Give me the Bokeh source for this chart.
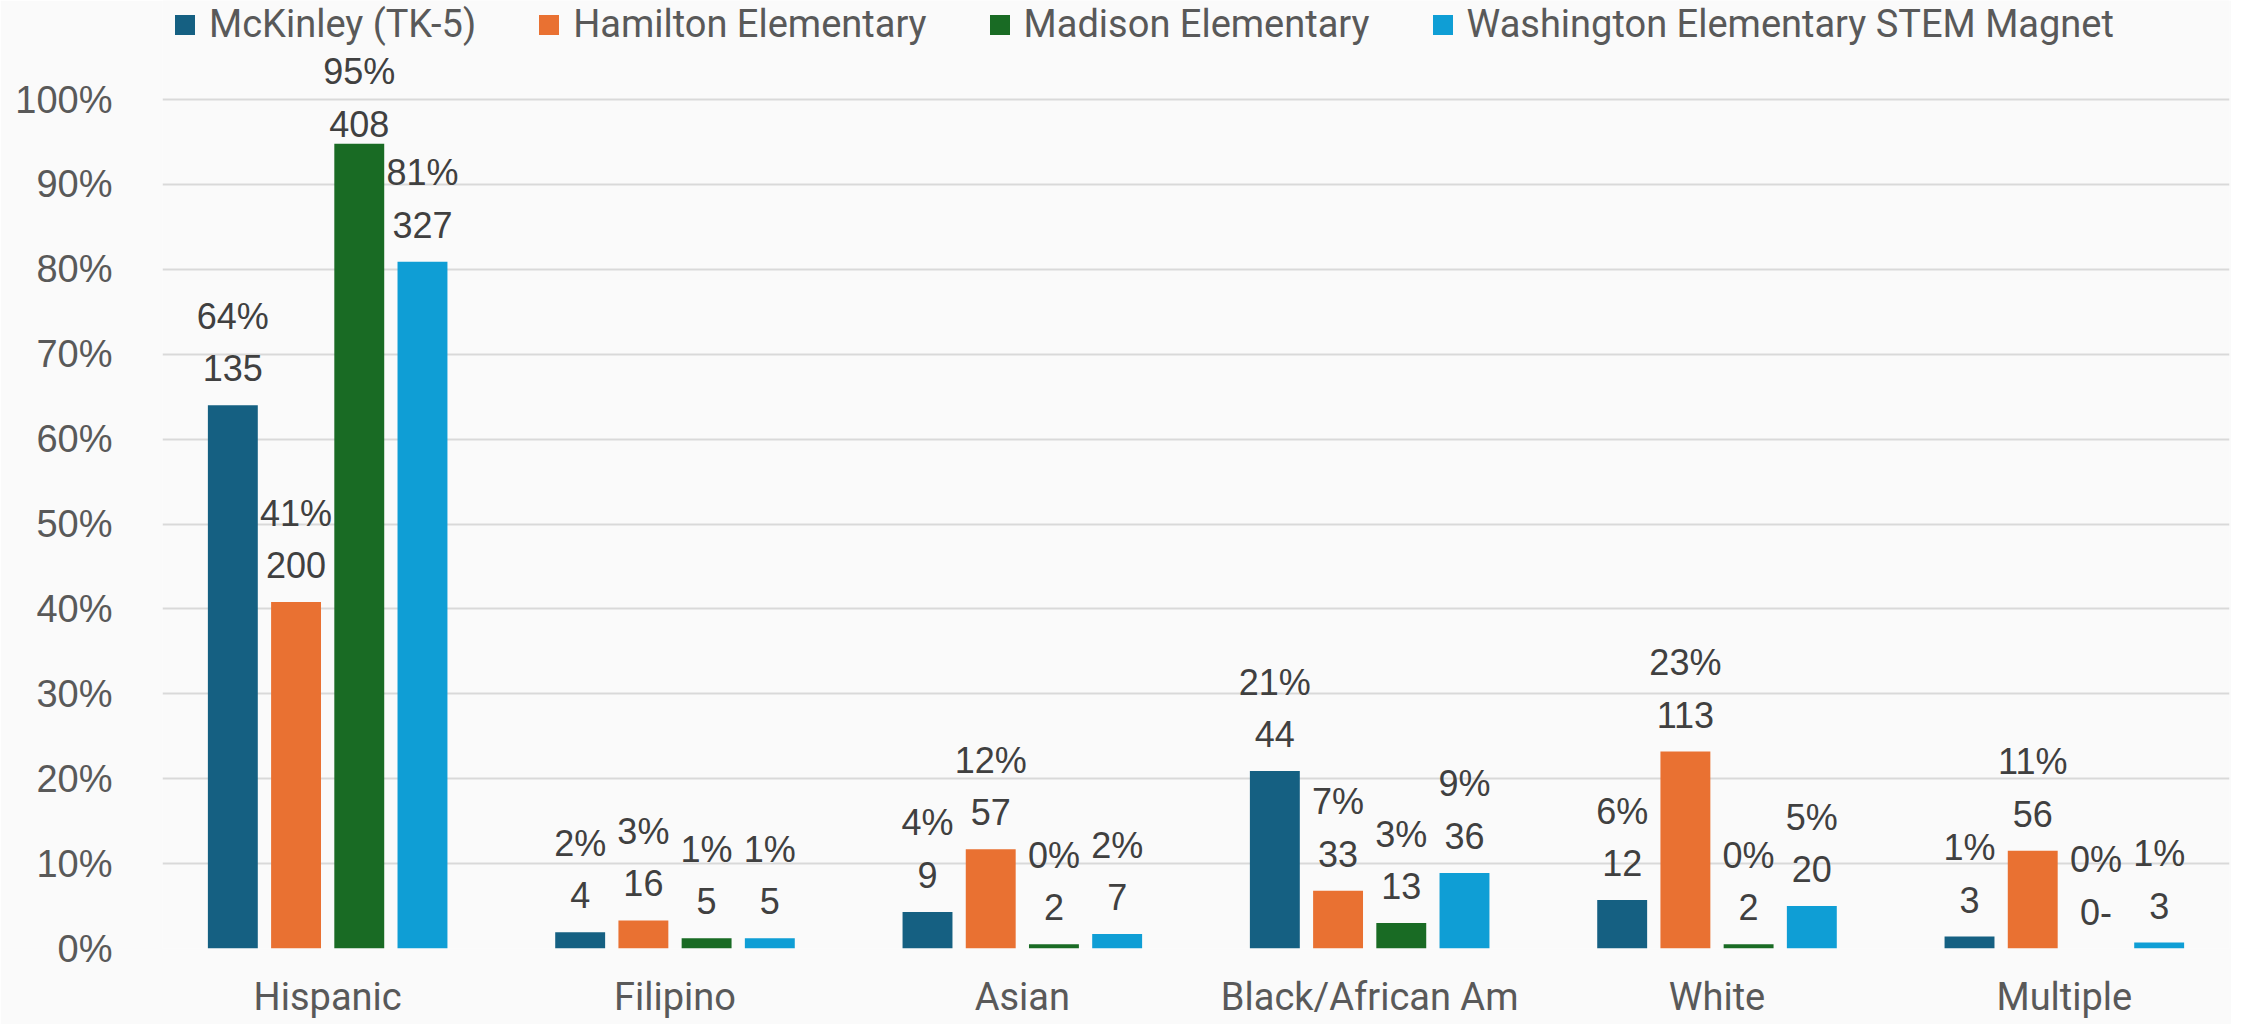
from bokeh.plotting import figure
from bokeh.models import (ColumnDataSource, FactorRange, Range1d, Legend, LegendItem,
                          NumeralTickFormatter, FixedTicker)
from bokeh.transform import dodge
from bokeh.embed import file_html
from bokeh.resources import INLINE
from bokeh.core.properties import value

categories = ["Hispanic", "Filipino", "Asian", "Black/African Am", "White", "Multiple"]
schools = ["McKinley (TK-5)", "Hamilton Elementary", "Madison Elementary",
           "Washington Elementary STEM Magnet"]

# share of each school's students (bar heights, fraction)
mckinley_share = [0.640, 0.019, 0.043, 0.209, 0.057, 0.014]
hamilton_share = [0.408, 0.033, 0.117, 0.068, 0.232, 0.115]
madison_share = [0.948, 0.012, 0.005, 0.030, 0.005, 0.000]
washington_share = [0.809, 0.012, 0.017, 0.089, 0.050, 0.007]

# data-label texts
mckinley_pct = ["64%", "2%", "4%", "21%", "6%", "1%"]
hamilton_pct = ["41%", "3%", "12%", "7%", "23%", "11%"]
madison_pct = ["95%", "1%", "0%", "3%", "0%", "0%"]
washington_pct = ["81%", "1%", "2%", "9%", "5%", "1%"]

mckinley_n = ["135", "4", "9", "44", "12", "3"]
hamilton_n = ["200", "16", "57", "33", "113", "56"]
madison_n = ["408", "5", "2", "13", "2", "0-"]
washington_n = ["327", "5", "7", "36", "20", "3"]

y_ticks = [0.0, 0.1, 0.2, 0.3, 0.4, 0.5, 0.6, 0.7, 0.8, 0.9, 1.0]

colors = ["#156082", "#E97132", "#196B24", "#0F9ED5"]
shares = [mckinley_share, hamilton_share, madison_share, washington_share]
pcts = [mckinley_pct, hamilton_pct, madison_pct, washington_pct]
counts = [mckinley_n, hamilton_n, madison_n, washington_n]

W, H = 2231, 1024
LEFT, RIGHT, TOP, BOTTOM = 162, 2, 0, 76
frame_h = H - TOP - BOTTOM
px_per_unit = 849.0
y_max = frame_h / px_per_unit
label_cap = 0.928  # labels are kept inside the plot area

p = figure(width=W, height=H, x_range=FactorRange(*categories),
           y_range=Range1d(0, y_max), output_backend="svg", toolbar_location=None,
           min_border_left=LEFT, min_border_right=RIGHT, min_border_top=TOP,
           min_border_bottom=BOTTOM)
p.x_range.range_padding = -0.0245
p.x_range.range_padding_units = "absolute"
p.background_fill_color = "#FAFAFA"
p.border_fill_color = "#FAFAFA"
p.outline_line_color = None

step = 0.182
width = 0.1437
offsets = [-1.5 * step, -0.5 * step, 0.5 * step, 1.5 * step]

items = []
for i in range(4):
    src = ColumnDataSource(dict(
        cat=categories,
        top=shares[i],
        ly=[min(v, label_cap) for v in shares[i]],
        pct=pcts[i],
        n=counts[i],
    ))
    r = p.vbar(x=dodge("cat", offsets[i], range=p.x_range), top="top", width=width,
               source=src, fill_color=colors[i], line_color=None)
    items.append(LegendItem(label=schools[i], renderers=[r]))
    common = dict(x=dodge("cat", offsets[i], range=p.x_range), y="ly", source=src,
                  text_align="center", text_baseline="alphabetic",
                  text_font=value("Liberation Sans"), text_font_size="36px",
                  text_color="#404040")
    p.text(text="n", y_offset=-37, **common)
    p.text(text="pct", y_offset=-89, **common)

# axes
p.yaxis.ticker = FixedTicker(ticks=y_ticks)
p.yaxis.formatter = NumeralTickFormatter(format="0%")
p.yaxis.axis_line_color = None
p.yaxis.major_tick_line_color = None
p.yaxis.minor_tick_line_color = None
p.yaxis.major_label_text_font = "Liberation Sans"
p.yaxis.major_label_text_font_size = "38px"
p.yaxis.major_label_text_color = "#595959"
p.yaxis.major_label_standoff = 44

p.xaxis.axis_line_color = None
p.xaxis.major_tick_line_color = None
p.xaxis.major_label_text_font = "Roboto"
p.xaxis.major_label_text_font_size = "38px"
p.xaxis.major_label_text_color = "#595959"
p.xaxis.major_label_standoff = 20

p.xgrid.grid_line_color = None
p.ygrid.grid_line_color = "#D9D9D9"
p.ygrid.grid_line_width = 2

legend = Legend(items=items, orientation="horizontal", location=(10, frame_h - 46),
                glyph_width=25, glyph_height=25, label_standoff=12, spacing=60,
                padding=0, margin=0, border_line_color=None, background_fill_alpha=0,
                label_text_font="Roboto", label_text_font_size="38px",
                label_text_color="#595959")
p.add_layout(legend, "center")

open("out.html", "w").write(file_html(p, INLINE))
